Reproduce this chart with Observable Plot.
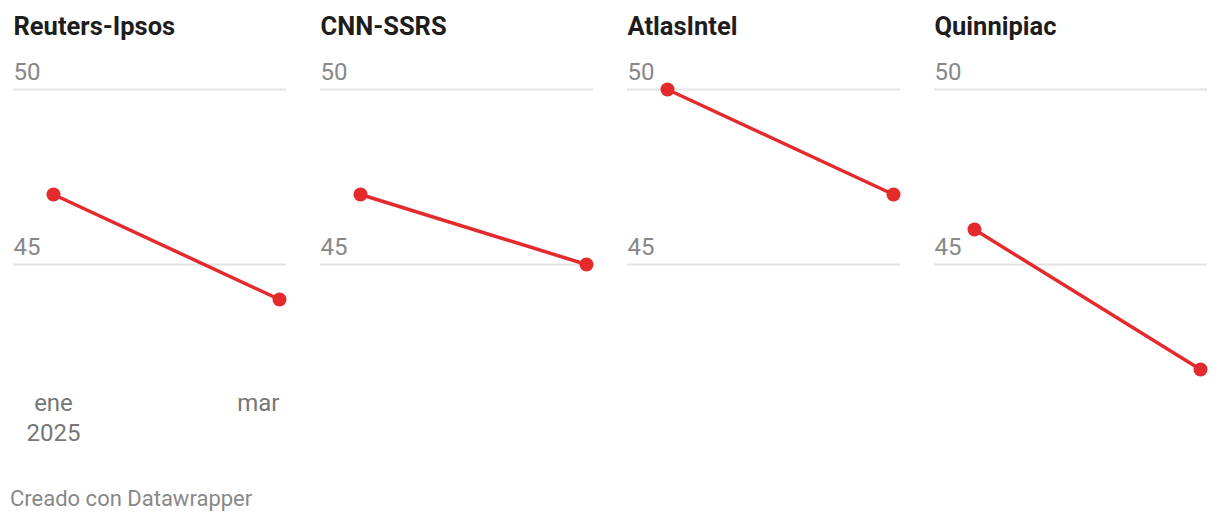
<!DOCTYPE html>
<html>
<head>
<meta charset="utf-8">
<script src="https://cdn.jsdelivr.net/npm/d3@7"></script>
<script src="https://cdn.jsdelivr.net/npm/@observablehq/plot@0.6"></script>
<style>
  html, body { margin: 0; padding: 0; background: #fff; }
  body { width: 1220px; height: 522px; position: relative; font-family: Roboto, sans-serif; }
  #chart svg { display: block; }
  #caption { position: absolute; left: 10px; top: 488px; font-size: 22px; line-height: 22px; color: #888; font-family: Roboto, sans-serif; }
</style>
</head>
<body>
<div id="chart"></div>
<div id="caption">Creado con Datawrapper</div>
<script>
const pollsters = ["Reuters-Ipsos", "CNN-SSRS", "AtlasIntel", "Quinnipiac"];
const months = ["2025-01-01", "2025-03-01"];
const eneValues = [47, 47, 50, 46];
const marValues = [44, 45, 47, 42];
const yTicks = [45, 50];
const xTickLabels = ["ene\n2025", "mar"];

const parse = d3.utcParse("%Y-%m-%d");
const dates = months.map(parse);

const rows = pollsters.flatMap((p, i) => [
  {pollster: p, date: dates[0], value: eneValues[i]},
  {pollster: p, date: dates[1], value: marValues[i]}
]);
const gridRows = pollsters.flatMap(p => yTicks.map(t => ({pollster: p, tick: t})));
const red = "#e42a2d";
const grey = "#777";

const chart = Plot.plot({
  width: 1220,
  height: 470,
  marginLeft: 12,
  marginRight: 12,
  marginTop: 54,
  marginBottom: 66,
  style: {fontFamily: "Roboto, sans-serif", background: "#fff"},
  fx: {domain: pollsters, paddingInner: 0.11, paddingOuter: 0, axis: null},
  x: {type: "utc", domain: dates, insetLeft: 40, insetRight: 7, axis: null},
  y: {domain: [41, 51], axis: null},
  marks: [
    Plot.ruleY(gridRows, {fx: "pollster", y: "tick", stroke: "#e3e3e3", strokeWidth: 2}),
    Plot.text(gridRows, {fx: "pollster", y: "tick", text: d => String(d.tick), frameAnchor: "left",
      textAnchor: "start", lineAnchor: "bottom", dy: -10, fill: "#888", fontSize: 24}),
    Plot.text(pollsters, {fx: d => d, text: d => d, frameAnchor: "top-left", textAnchor: "start",
      lineAnchor: "bottom", dy: -20, fill: "#1d1d1d", fontSize: 25.5, fontWeight: "bold"}),
    Plot.line(rows, {fx: "pollster", x: "date", y: "value", stroke: red, strokeWidth: 3.5}),
    Plot.dot(rows, {fx: "pollster", x: "date", y: "value", fill: red, r: 7}),
    Plot.text([{pollster: pollsters[0], date: dates[0], label: xTickLabels[0]}], {fx: "pollster", x: "date", text: "label",
      frameAnchor: "bottom", textAnchor: "middle", lineAnchor: "bottom", dy: 36, lineHeight: 1.25, fill: grey, fontSize: 24}),
    Plot.text([{pollster: pollsters[0], date: dates[1], label: xTickLabels[1]}], {fx: "pollster", x: "date", text: "label",
      frameAnchor: "bottom", textAnchor: "end", lineAnchor: "bottom", dy: 6, fill: grey, fontSize: 24})
  ]
});
document.getElementById("chart").appendChild(chart);
</script>
</body>
</html>
